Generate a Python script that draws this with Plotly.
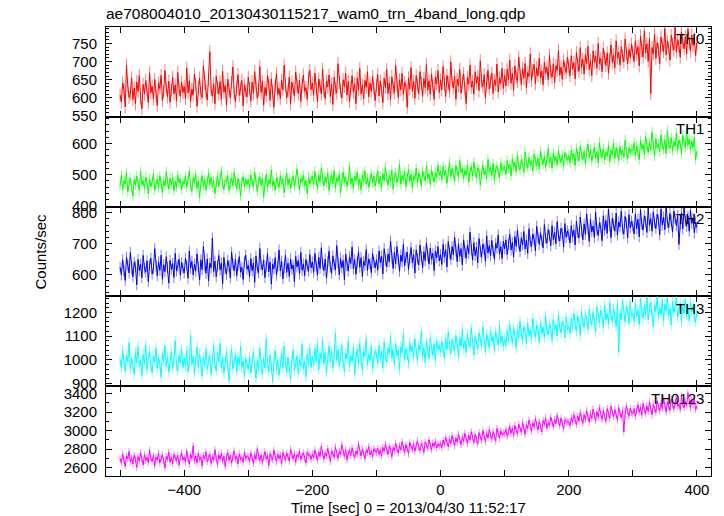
import numpy as np
import plotly.graph_objects as go
from plotly.subplots import make_subplots

# ---------------- data ----------------
T_START = -500          # first bin time [sec]
T_STEP = 2              # bin spacing [sec]

TH0 = [608, 589, 641, 622, 575, 690, 633, 601, 612, 655, 596, 627, 583, 644, 618, 661, 599, 570, 637, 610, 648, 623, 587, 669, 614, 632, 597, 651, 606, 579, 640, 626, 662, 593, 617, 675, 628, 603, 646, 588, 621, 657, 611, 636, 592, 670, 625, 604, 643, 615,
       631, 598, 682, 614, 647, 590, 624, 608, 666, 637, 577, 629, 655, 612, 601, 688, 640, 618, 594, 650, 727, 622, 605, 639, 584, 660, 627, 611, 645, 596, 673, 616, 634, 580, 652, 621, 600, 642, 685, 613, 589, 630, 664, 607, 625, 648, 578, 636, 619, 603,
       657, 626, 591, 644, 612, 672, 634, 599, 621, 686, 615, 645, 580, 629, 606, 661, 638, 593, 652, 617, 574, 633, 667, 610, 626, 598, 648, 622, 690, 636, 601, 619, 657, 584, 643, 627, 605, 671, 632, 612, 649, 590, 637, 663, 618, 628, 596, 654, 676, 623,
       641, 607, 668, 625, 589, 652, 633, 611, 679, 620, 598, 646, 630, 663, 604, 638, 582, 657, 626, 613, 694, 642, 619, 600, 650, 631, 668, 608, 645, 590, 627, 661, 616, 639, 584, 655, 623, 681, 611, 636, 597, 648, 629, 672, 603, 641, 618, 659, 626, 592,
       633, 664, 605, 647, 620, 587, 654, 629, 678, 612, 641, 596, 658, 627, 614, 689, 636, 601, 650, 622, 667, 609, 643, 632, 574, 655, 624, 683, 618, 646, 599, 661, 635, 611, 672, 640, 604, 653, 628, 692, 621, 647, 610, 665, 634, 596, 657, 639, 675, 615,
       650, 622, 686, 637, 604, 662, 641, 618, 699, 645, 627, 660, 596, 651, 634, 678, 613, 643, 667, 625, 584, 656, 638, 690, 629, 647, 610, 672, 640, 659, 620, 702, 646, 631, 664, 600, 653, 676, 624, 644, 668, 612, 649, 635, 693, 617, 655, 640, 681, 626,
       662, 633, 679, 650, 704, 640, 668, 621, 688, 657, 645, 712, 663, 637, 681, 654, 695, 628, 670, 659, 721, 648, 676, 692, 639, 683, 661, 709, 655, 674, 636, 698, 668, 684, 650, 717, 671, 657, 694, 642, 689, 676, 730, 662, 685, 651, 703, 680, 669, 712,
       688, 661, 716, 679, 697, 652, 725, 690, 673, 738, 684, 706, 666, 719, 695, 742, 678, 703, 661, 729, 699, 714, 681, 750, 694, 708, 672, 736, 712, 689, 724, 668, 705, 746, 697, 718, 683, 757, 709, 726, 690, 741, 715, 700, 762, 722, 694, 733, 711, 748,
       726, 700, 757, 719, 741, 688, 770, 730, 712, 785, 724, 749, 701, 763, 612, 738, 722, 776, 709, 752, 733, 694, 768, 745, 727, 791, 718, 755, 739, 704, 772, 748, 731, 795, 726, 760, 742, 712, 781, 754, 735, 768, 721, 790, 750, 729, 773, 744, 762, 716, 752]

TH1 = [463, 498, 452, 481, 470, 507, 445, 476, 489, 458, 431, 484, 466, 495, 472, 449, 511, 468, 480, 455, 492, 474, 438, 486, 461, 477, 503, 450, 469, 485, 457, 496, 471, 442, 480, 464, 509, 476, 453, 488, 467, 492, 447, 479, 460, 499, 473, 486, 451, 478,
       470, 494, 459, 483, 512, 466, 447, 489, 475, 501, 456, 480, 426, 471, 497, 463, 485, 450, 478, 504, 467, 491, 458, 481, 439, 474, 495, 462, 486, 513, 469, 452, 483, 477, 498, 448, 472, 490, 465, 507, 479, 455, 487, 470, 431, 476, 493, 461, 484, 468,
       486, 455, 499, 473, 462, 508, 481, 446, 477, 493, 466, 489, 427, 475, 502, 458, 484, 470, 515, 463, 480, 449, 491, 476, 458, 497, 471, 486, 441, 479, 505, 467, 488, 455, 474, 496, 462, 483, 519, 472, 450, 487, 476, 498, 464, 481, 439, 492, 470, 485,
       494, 468, 510, 481, 455, 499, 476, 522, 487, 463, 492, 473, 506, 449, 484, 497, 470, 513, 458, 488, 478, 501, 442, 486, 509, 475, 493, 462, 482, 527, 471, 489, 456, 495, 480, 508, 466, 486, 451, 498, 477, 512, 469, 490, 459, 485, 503, 474, 496, 463,
       488, 512, 470, 495, 458, 503, 481, 524, 490, 466, 499, 477, 514, 453, 492, 506, 475, 488, 533, 469, 497, 483, 510, 462, 491, 518, 478, 500, 456, 494, 485, 521, 473, 504, 490, 464, 511, 496, 480, 527, 487, 502, 468, 515, 493, 476, 508, 489, 530, 498,
       511, 484, 526, 499, 515, 472, 507, 538, 494, 519, 503, 481, 529, 510, 492, 545, 506, 520, 487, 514, 498, 533, 476, 512, 525, 495, 541, 508, 489, 522, 517, 466, 503, 531, 500, 514, 486, 549, 509, 523, 497, 536, 482, 516, 528, 505, 491, 539, 512, 520,
       527, 501, 545, 519, 533, 496, 551, 524, 540, 510, 562, 529, 515, 548, 534, 507, 572, 538, 522, 556, 530, 544, 512, 567, 541, 528, 553, 518, 575, 546, 533, 560, 524, 549, 584, 537, 556, 521, 569, 543, 558, 531, 578, 550, 539, 564, 527, 571, 555, 545,
       561, 538, 579, 552, 567, 530, 585, 558, 544, 592, 563, 549, 576, 535, 570, 598, 556, 581, 542, 566, 589, 553, 574, 538, 604, 568, 555, 583, 547, 572, 560, 594, 541, 578, 565, 601, 552, 586, 571, 545, 590, 563, 579, 556, 611, 574, 550, 587, 569, 582,
       577, 603, 561, 592, 574, 548, 610, 583, 596, 565, 622, 588, 571, 604, 579, 637, 593, 560, 615, 586, 599, 574, 628, 594, 581, 612, 568, 641, 597, 585, 619, 576, 606, 592, 633, 580, 611, 598, 567, 626, 603, 589, 644, 595, 614, 580, 609, 587, 620, 548, 575]

TH2 = [623, 598, 647, 611, 580, 655, 630, 604, 671, 617, 592, 639, 625, 566, 648, 612, 633, 589, 661, 620, 607, 644, 576, 629, 652, 601, 618, 683, 627, 595, 640, 613, 662, 584, 631, 608, 657, 622, 571, 645, 616, 635, 590, 668, 611, 626, 649, 597, 638, 620,
       604, 652, 628, 587, 675, 619, 642, 598, 633, 610, 666, 624, 581, 647, 615, 690, 629, 603, 650, 578, 636, 621, 718, 609, 643, 592, 627, 661, 614, 637, 569, 655, 618, 600, 645, 626, 588, 672, 634, 611, 649, 596, 630, 657, 607, 622, 583, 641, 663, 616,
       628, 593, 651, 612, 637, 574, 659, 620, 605, 684, 631, 614, 646, 589, 625, 667, 608, 640, 568, 633, 618, 654, 597, 627, 679, 611, 643, 585, 622, 662, 606, 636, 593, 650, 617, 630, 576, 658, 624, 645, 601, 671, 613, 634, 595, 648, 626, 610, 664, 621,
       640, 606, 668, 627, 597, 655, 619, 686, 633, 612, 649, 587, 641, 675, 624, 603, 660, 630, 614, 693, 637, 598, 652, 621, 645, 582, 666, 628, 610, 657, 635, 689, 617, 648, 600, 639, 673, 623, 654, 593, 642, 629, 680, 612, 650, 634, 605, 667, 638, 621,
       647, 613, 676, 638, 659, 601, 683, 645, 624, 666, 640, 708, 652, 619, 671, 634, 690, 648, 610, 662, 641, 697, 627, 655, 672, 616, 650, 687, 637, 664, 604, 679, 651, 630, 695, 658, 621, 673, 644, 702, 660, 633, 685, 649, 668, 612, 676, 654, 690, 643,
       664, 632, 697, 655, 680, 624, 706, 669, 648, 690, 663, 721, 676, 641, 699, 658, 684, 630, 712, 671, 652, 694, 667, 737, 679, 646, 703, 661, 688, 637, 716, 674, 655, 698, 682, 642, 725, 669, 693, 660, 710, 676, 649, 700, 685, 728, 665, 690, 651, 707,
       683, 712, 664, 697, 730, 679, 704, 656, 723, 691, 744, 700, 674, 719, 695, 739, 682, 711, 668, 748, 705, 690, 731, 714, 676, 756, 720, 697, 735, 709, 686, 762, 717, 701, 745, 726, 693, 758, 712, 737, 699, 771, 724, 708, 750, 733, 688, 765, 720, 741,
       729, 702, 758, 721, 744, 695, 773, 735, 718, 786, 740, 712, 764, 730, 796, 748, 707, 779, 738, 757, 720, 801, 745, 726, 768, 752, 709, 790, 743, 775, 733, 812, 757, 719, 783, 761, 740, 799, 727, 770, 754, 805, 746, 731, 788, 766, 718, 794, 751, 773,
       757, 731, 796, 748, 779, 722, 810, 763, 744, 790, 771, 736, 815, 758, 781, 740, 803, 767, 749, 795, 776, 728, 812, 760, 786, 745, 820, 769, 752, 798, 774, 737, 806, 782, 758, 791, 697, 764, 800, 748, 817, 773, 756, 789, 740, 808, 766, 781, 735, 770, 752]

TH3 = [1002, 968, 1041, 985, 952, 1018, 994, 1073, 961, 1009, 977, 940, 1030, 989, 1056, 971, 997, 935, 1022, 983, 1063, 958, 1004, 1037, 975, 946, 1015, 992, 1049, 966, 1008, 981, 927, 1026, 996, 1059, 972, 1012, 949, 990, 1035, 963, 1001, 1081, 978, 954, 1019, 987, 1044, 969,
       1007, 974, 1039, 951, 990, 1105, 982, 1016, 943, 999, 1053, 968, 1025, 987, 931, 1011, 976, 1047, 960, 994, 1019, 939, 1003, 1062, 980, 955, 1028, 991, 1071, 966, 1009, 945, 985, 1036, 972, 913, 1000, 1045, 962, 988, 1023, 950, 1014, 978, 1058, 969, 996, 930, 1006, 983,
       961, 1012, 945, 988, 1034, 970, 922, 997, 957, 1049, 979, 938, 1006, 966, 1089, 984, 951, 1020, 973, 909, 992, 1040, 959, 1001, 935, 982, 1027, 964, 1058, 990, 948, 1010, 971, 917, 996, 1043, 955, 985, 1017, 943, 1004, 974, 1066, 962, 993, 928, 1024, 980, 1050, 968,
       1015, 978, 1047, 993, 1069, 960, 1026, 1002, 1083, 984, 1031, 946, 1010, 1058, 991, 1037, 967, 1020, 1111, 998, 1041, 975, 1012, 1064, 987, 950, 1029, 1005, 1078, 970, 1018, 994, 1052, 939, 1009, 1045, 983, 1071, 1000, 958, 1034, 1016, 1090, 979, 1023, 997, 1057, 964, 1007, 1039,
       1022, 985, 1061, 1003, 1036, 966, 1075, 1014, 992, 1049, 1027, 1098, 1008, 1044, 978, 1069, 1019, 1040, 957, 1055, 1031, 1112, 1001, 1046, 1024, 983, 1073, 1035, 1059, 1010, 1088, 1027, 995, 1064, 1042, 1121, 1016, 1052, 989, 1077, 1038, 1006, 1093, 1048, 1020, 1068, 997, 1082, 1044, 1060,
       1033, 1079, 1050, 1008, 1091, 1043, 1117, 1061, 1024, 1085, 1056, 1039, 1103, 1069, 1012, 1094, 1058, 1128, 1047, 1081, 1030, 1108, 1072, 1054, 1136, 1065, 1020, 1099, 1077, 1046, 1114, 1083, 1061, 1140, 1069, 1035, 1106, 1088, 1052, 1125, 1079, 1097, 1041, 1119, 1086, 1063, 1147, 1074, 1101, 1058,
       1090, 1061, 1124, 1083, 1150, 1097, 1072, 1135, 1105, 1049, 1129, 1094, 1162, 1110, 1080, 1141, 1117, 1068, 1156, 1102, 1126, 1088, 1177, 1119, 1097, 1146, 1131, 1075, 1160, 1112, 1138, 1093, 1185, 1124, 1106, 1153, 1134, 1082, 1171, 1128, 1148, 1101, 1192, 1137, 1115, 1163, 1143, 1094, 1180, 1130,
       1141, 1112, 1175, 1133, 1197, 1150, 1121, 1186, 1160, 1103, 1205, 1157, 1138, 1192, 1168, 1127, 1215, 1174, 1149, 1201, 1165, 1118, 1225, 1179, 1158, 1209, 1183, 1137, 1232, 1170, 1196, 1152, 1244, 1188, 1163, 1219, 1178, 1140, 1237, 1035, 1198, 1171, 1252, 1190, 1160, 1226, 1203, 1155, 1246, 1185,
       1196, 1162, 1238, 1184, 1210, 1150, 1259, 1201, 1176, 1232, 1191, 1265, 1170, 1218, 1245, 1188, 1140, 1229, 1205, 1268, 1179, 1221, 1193, 1250, 1164, 1236, 1207, 1262, 1185, 1216, 1148, 1247, 1199, 1226, 1268, 1180, 1212, 1239, 1158, 1230, 1195, 1256, 1187, 1220, 1166, 1242, 1203, 1228, 1174, 1160, 1198]

TH0123 = [2701, 2652, 2748, 2680, 2615, 2727, 2694, 2776, 2663, 2710, 2641, 2735, 2688, 2603, 2719, 2672, 2765, 2696, 2630, 2742, 2678, 2710, 2655, 2789, 2701, 2667, 2731, 2620, 2714, 2685, 2757, 2649, 2706, 2738, 2674, 2598, 2722, 2690, 2768, 2661, 2716, 2643, 2745, 2699, 2676, 2734, 2627, 2708, 2760, 2683,
          2712, 2660, 2781, 2695, 2637, 2741, 2703, 2837, 2670, 2726, 2652, 2758, 2689, 2715, 2620, 2733, 2697, 2772, 2664, 2709, 2745, 2646, 2720, 2682, 2795, 2701, 2631, 2738, 2690, 2756, 2668, 2724, 2612, 2714, 2765, 2679, 2737, 2650, 2706, 2782, 2693, 2722, 2641, 2749, 2686, 2711, 2658, 2770, 2698, 2729,
          2716, 2667, 2761, 2702, 2646, 2745, 2690, 2804, 2722, 2675, 2739, 2657, 2713, 2774, 2694, 2733, 2626, 2751, 2708, 2684, 2790, 2720, 2662, 2747, 2699, 2736, 2643, 2765, 2711, 2685, 2758, 2724, 2671, 2800, 2730, 2697, 2752, 2658, 2741, 2716, 2779, 2688, 2733, 2760, 2702, 2651, 2771, 2728, 2744, 2690,
          2748, 2705, 2792, 2733, 2682, 2770, 2720, 2833, 2744, 2691, 2761, 2726, 2809, 2739, 2668, 2782, 2750, 2713, 2824, 2757, 2700, 2775, 2741, 2848, 2766, 2722, 2796, 2685, 2759, 2787, 2731, 2815, 2752, 2710, 2778, 2745, 2858, 2769, 2727, 2801, 2756, 2695, 2790, 2763, 2829, 2738, 2784, 2716, 2806, 2772,
          2759, 2812, 2741, 2795, 2728, 2821, 2776, 2853, 2789, 2744, 2830, 2799, 2716, 2817, 2782, 2866, 2804, 2757, 2840, 2792, 2881, 2815, 2763, 2848, 2809, 2750, 2873, 2826, 2796, 2858, 2777, 2840, 2890, 2818, 2785, 2862, 2831, 2766, 2877, 2845, 2808, 2902, 2837, 2793, 2868, 2829, 2884, 2812, 2856, 2834,
          2862, 2817, 2898, 2846, 2930, 2871, 2824, 2910, 2859, 2945, 2888, 2836, 2921, 2875, 2962, 2900, 2848, 2936, 2883, 2972, 2912, 2860, 2950, 2897, 2988, 2925, 2871, 2961, 2909, 2855, 2979, 2933, 2894, 3002, 2946, 2880, 2969, 2921, 3013, 2955, 2906, 2990, 2938, 2889, 3025, 2964, 2917, 2999, 2951, 2976,
          2961, 3014, 2937, 2992, 3046, 2970, 3025, 2948, 3058, 3003, 2966, 3071, 3012, 2983, 3090, 3031, 2960, 3063, 3020, 3115, 3044, 2995, 3082, 3036, 3129, 3056, 3008, 3097, 3049, 2987, 3110, 3068, 3137, 3024, 3081, 3058, 3146, 3091, 3039, 3121, 3073, 3166, 3098, 3050, 3135, 3085, 3017, 3117, 3104, 3092,
          3096, 3052, 3141, 3087, 3172, 3110, 3063, 3158, 3101, 3195, 3133, 3078, 3170, 3119, 3215, 3147, 3092, 3186, 3129, 3232, 3162, 3105, 3201, 3143, 3248, 3176, 3120, 3216, 3158, 3100, 3237, 3180, 3131, 3263, 3195, 3149, 3226, 3171, 3112, 3250, 3189, 3140, 3219, 2985, 3177, 3268, 3205, 3154, 3241, 3192,
          3178, 3236, 3152, 3210, 3279, 3197, 3251, 3166, 3292, 3223, 3184, 3266, 3205, 3310, 3241, 3170, 3286, 3228, 3195, 3322, 3258, 3213, 3295, 3236, 3349, 3270, 3201, 3309, 3252, 3218, 3338, 3277, 3230, 3301, 3360, 3262, 3290, 3224, 3372, 3283, 3247, 3318, 3265, 3407, 3296, 3240, 3328, 3279, 3352, 3226, 3264]

BANDS = ["TH0", "TH1", "TH2", "TH3", "TH0123"]
SERIES = [TH0, TH1, TH2, TH3, TH0123]
ERRORS = [18, 16, 18, 22, 37]          # typical 1-sigma error per bin

X_TICKS = [-500, -400, -300, -200, -100, 0, 100, 200, 300, 400]
X_TICK_LABELS = ["", "\u2212400", "", "\u2212200", "", "0", "", "200", "", "400"]

TITLE = "ae708004010_20130430115217_wam0_trn_4band_long.qdp"
X_TITLE = "Time [sec] 0 = 2013/04/30 11:52:17"
Y_TITLE = "Counts/sec"

# ---------------- style ----------------
COLORS = ["#ff0000", "#00ff00", "#0000ff", "#00ffff", "#ff00ff"]
ERR_COLORS = ["rgba(255,0,0,0.5)", "rgba(0,255,0,0.5)", "rgba(0,0,255,0.5)",
              "rgba(0,255,255,0.5)", "rgba(255,0,255,0.5)"]
Y_RANGES = [[548, 795], [397, 686], [528, 820], [889, 1268], [2511, 3478]]
Y_DTICK = [50, 100, 100, 100, 200]
Y_MINOR = [10, 20, 20, 20, 100]
X_RANGE = [-522, 422]
FONT = "Liberation Sans, Arial, Helvetica, sans-serif"

W, H = 724, 516
ML, MR, MT, MB = 106, 13, 27, 40

fig = make_subplots(rows=5, cols=1, shared_xaxes=True, vertical_spacing=0)

for i, (name, vals) in enumerate(zip(BANDS, SERIES)):
    t = T_START + T_STEP * np.arange(len(vals))
    fig.add_trace(go.Scatter(
        x=t, y=vals, mode="lines", name=name,
        line=dict(color=COLORS[i], width=1),
        error_y=dict(type="constant", value=ERRORS[i], color=ERR_COLORS[i],
                     thickness=1, width=0),
        showlegend=False, hoverinfo="skip"), row=i + 1, col=1)

    fig.update_yaxes(row=i + 1, col=1, range=Y_RANGES[i], dtick=Y_DTICK[i], tick0=0,
                     ticks="inside", ticklen=6, tickwidth=1, tickcolor="black",
                     minor=dict(dtick=Y_MINOR[i], tick0=0, ticks="inside", ticklen=3,
                                tickcolor="black", showgrid=False),
                     showline=True, linecolor="black", linewidth=1, mirror="ticks",
                     showgrid=False, zeroline=False, ticklabelstandoff=5,
                     tickfont=dict(family=FONT, size=15, color="black"))

    fig.update_xaxes(row=i + 1, col=1, range=X_RANGE, tickvals=X_TICKS,
                     ticktext=X_TICK_LABELS, showticklabels=(i == 4),
                     ticks="inside", ticklen=6, tickwidth=1, tickcolor="black",
                     showline=True, linecolor="black", linewidth=1, mirror="ticks",
                     showgrid=False, zeroline=False,
                     tickfont=dict(family=FONT, size=15, color="black"))

    yref = "y domain" if i == 0 else f"y{i + 1} domain"
    xref = "x domain" if i == 0 else f"x{i + 1} domain"
    fig.add_annotation(text=name, xref=xref, yref=yref, x=0.992, y=0.985,
                       xanchor="right", yanchor="top", showarrow=False,
                       font=dict(family=FONT, size=15, color="black"))

PW = W - ML - MR
PH = H - MT - MB
fig.add_annotation(text=Y_TITLE, xref="paper", yref="paper",
                   x=-(ML - 40) / PW, y=0.5, xanchor="center", yanchor="middle",
                   textangle=-90, showarrow=False,
                   font=dict(family=FONT, size=15, color="black"))
fig.add_annotation(text=X_TITLE, xref="paper", yref="paper",
                   x=0.5, y=-(507 - (H - MB)) / PH, xanchor="center", yanchor="middle",
                   showarrow=False, font=dict(family=FONT, size=15, color="black"))

fig.update_layout(
    width=W, height=H,
    margin=dict(l=ML, r=MR, t=MT, b=MB, autoexpand=False),
    paper_bgcolor="white", plot_bgcolor="white",
    title=dict(text=TITLE, x=ML / W, xanchor="left", xref="container",
               y=1 - 14 / H, yanchor="middle", yref="container",
               font=dict(family=FONT, size=15.5, color="black")),
    font=dict(family=FONT, size=15, color="black"),
)

fig.write_html("out.html", config={"displayModeBar": False},
               post_script="document.body.style.margin='0';document.body.style.overflow='hidden';")
